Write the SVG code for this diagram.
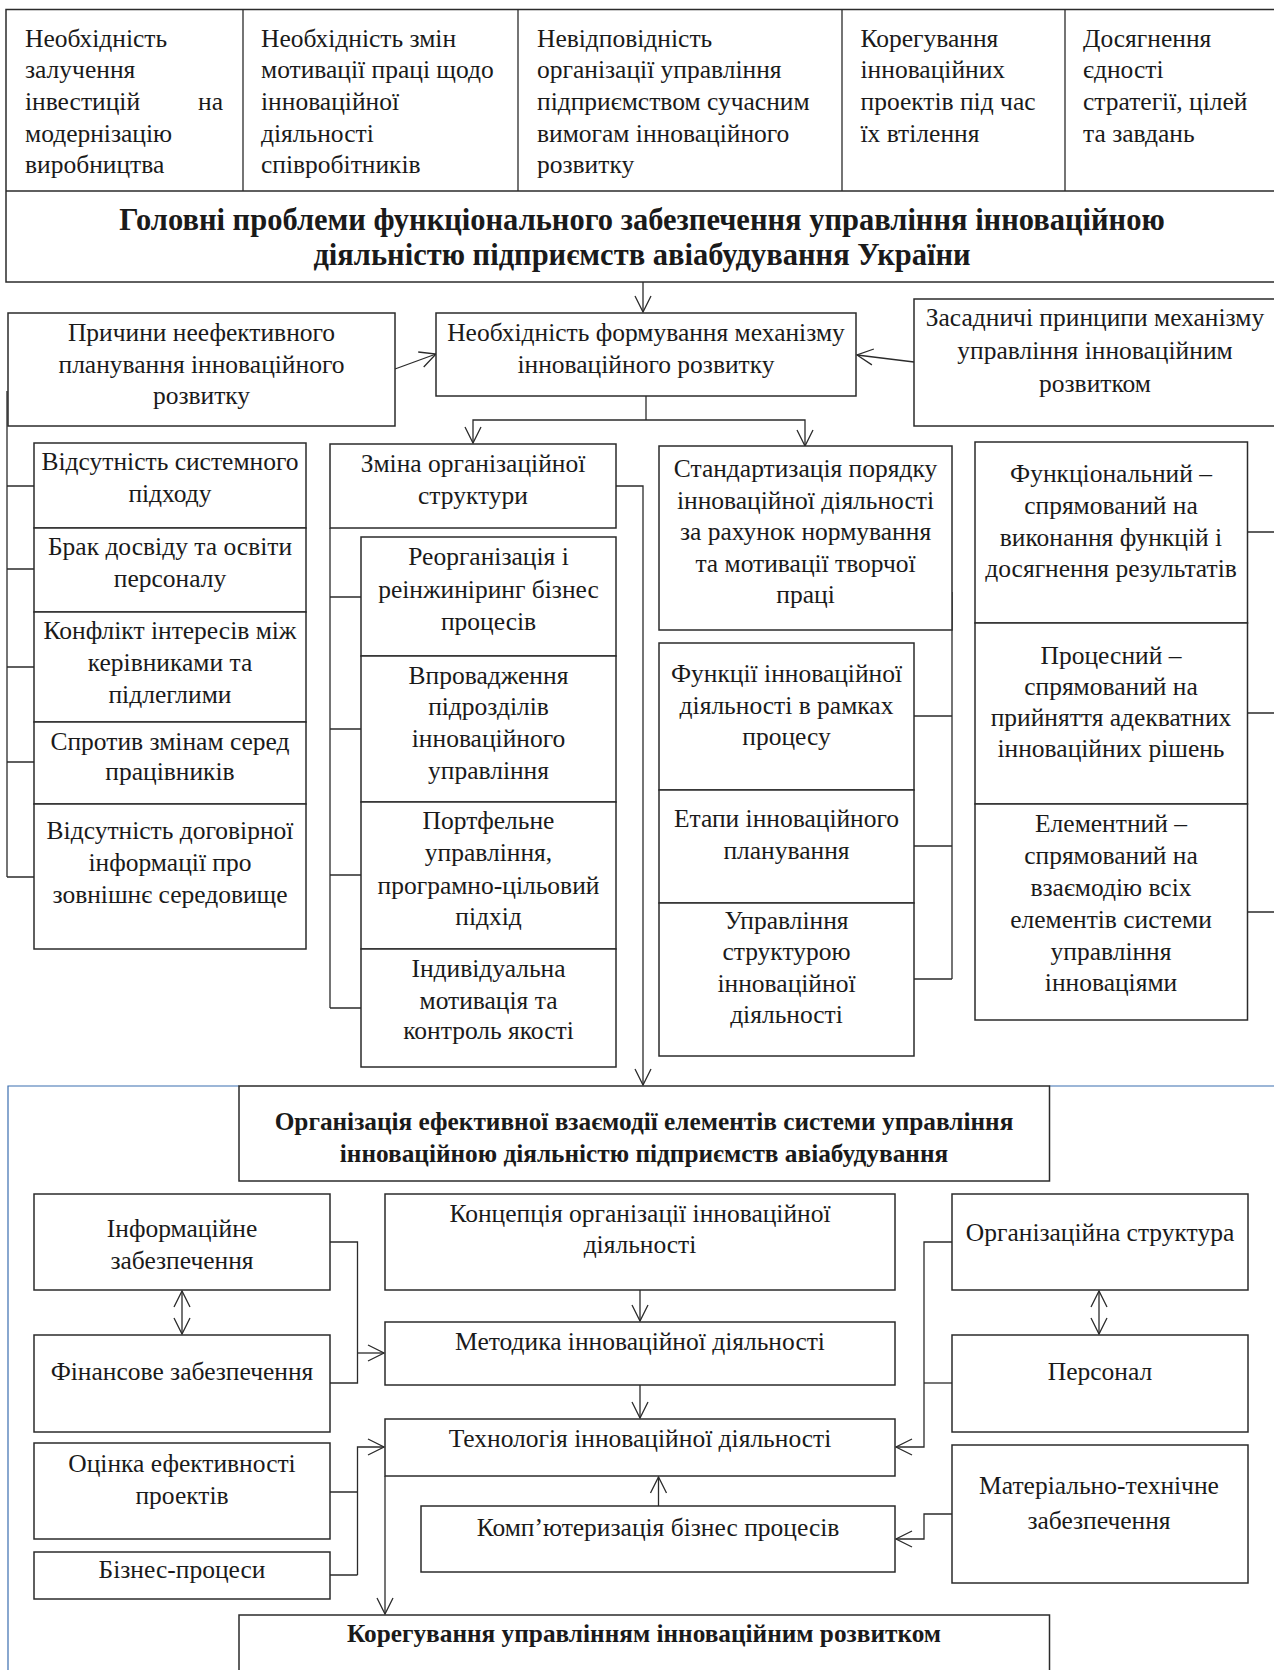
<svg xmlns="http://www.w3.org/2000/svg" width="1274" height="1670" viewBox="0 0 1274 1670">
<defs>
<style>
.b{fill:#fff;stroke:#2b2b2b;stroke-width:1.5}
.c{fill:none;stroke:#2b2b2b;stroke-width:1.3}
.ca{fill:none;stroke:#2b2b2b;stroke-width:1.3;marker-end:url(#ah)}
.cd{fill:none;stroke:#2b2b2b;stroke-width:1.3;marker-end:url(#ah);marker-start:url(#ah)}
.t{font-family:"Liberation Serif","Times New Roman",serif;font-size:25.5px;fill:#1a1a1a}
.m{text-anchor:middle}
.h{font-family:"Liberation Serif","Times New Roman",serif;font-size:30.5px;font-weight:bold;fill:#1a1a1a;text-anchor:middle}
.h2{font-family:"Liberation Serif","Times New Roman",serif;font-size:25.3px;font-weight:bold;fill:#1a1a1a;text-anchor:middle}
.blue{fill:none;stroke:#3b6eb0;stroke-width:1.2}
</style>
<marker id="ah" markerUnits="userSpaceOnUse" markerWidth="20" markerHeight="20" viewBox="-18 -10 20 20" refX="0" refY="0" orient="auto-start-reverse">
<path d="M-16,-8 L0,0 L-16,8" fill="none" stroke="#2b2b2b" stroke-width="1.3"/>
</marker>
</defs>
<rect width="1274" height="1670" fill="#fff"/>

<path class="blue" d="M239,1086 H8 V1672 M1049.5,1086 H1280"/>

<g id="top-table">
<rect class="b" x="6" y="9.5" width="1275" height="272.5"/>
<path class="c" d="M6,191 H1281 M243,9.5 V191 M518,9.5 V191 M842,9.5 V191 M1065,9.5 V191"/>
<text class="t"><tspan x="25" y="46.5">Необхідність</tspan><tspan x="25" y="78">залучення</tspan><tspan x="25" y="109.5">інвестицій</tspan><tspan x="223" y="109.5" text-anchor="end">на</tspan><tspan x="25" y="141.5">модернізацію</tspan><tspan x="25" y="173">виробництва</tspan></text>
<text class="t"><tspan x="261" y="46.5">Необхідність змін</tspan><tspan x="261" y="78">мотивації праці щодо</tspan><tspan x="261" y="109.5">інноваційної</tspan><tspan x="261" y="141.5">діяльності</tspan><tspan x="261" y="173">співробітників</tspan></text>
<text class="t"><tspan x="537" y="46.5">Невідповідність</tspan><tspan x="537" y="78">організації управління</tspan><tspan x="537" y="109.5">підприємством сучасним</tspan><tspan x="537" y="141.5">вимогам інноваційного</tspan><tspan x="537" y="173">розвитку</tspan></text>
<text class="t"><tspan x="860.5" y="46.5">Корегування</tspan><tspan x="860.5" y="78">інноваційних</tspan><tspan x="860.5" y="109.5">проектів під час</tspan><tspan x="860.5" y="141.5">їх втілення</tspan></text>
<text class="t"><tspan x="1083" y="46.5">Досягнення</tspan><tspan x="1083" y="78">єдності</tspan><tspan x="1083" y="109.5">стратегії, цілей</tspan><tspan x="1083" y="141.5">та завдань</tspan></text>
<text class="h"><tspan x="642" y="230">Головні проблеми функціонального забезпечення управління інноваційною</tspan><tspan x="642" y="265">діяльністю підприємств авіабудування України</tspan></text>
</g>

<g id="connectors">
<path class="ca" d="M643,282 V312"/>
<path class="ca" d="M395,369 L436,354"/>
<path class="ca" d="M914,362 L857,355"/>
<path class="c" d="M646,396 V420"/>
<path class="ca" d="M646,420 H473 V443"/>
<path class="ca" d="M646,420 H805 V446"/>
<path class="c" d="M7,391 V877 M7,486 H34 M7,569 H34 M7,667 H34 M7,762 H34 M7,877 H34"/>
<path class="ca" d="M616,486 H643 V1085"/>
<path class="c" d="M330,528 V1008 M330,597 H361 M330,729 H361 M330,875 H361 M330,1008 H361"/>
<path class="c" d="M952,592 V979 M914,716 H952 M914,846 H952 M914,979 H952"/>
<path class="c" d="M1247,532 H1276 M1247,713 H1276 M1247,912 H1276"/>
<path class="cd" d="M182,1291 V1334"/>
<path class="c" d="M330,1242 H357.5 V1383 H330"/>
<path class="ca" d="M357.5,1353 H384"/>
<path class="ca" d="M640,1290 V1321"/>
<path class="ca" d="M640,1385 V1418"/>
<path class="ca" d="M658.5,1506 V1477"/>
<path class="c" d="M330,1492 H357.5 M330,1575 H357.5"/>
<path class="ca" d="M357.5,1575 V1447 H384"/>
<path class="ca" d="M385,1476 V1614"/>
<path class="cd" d="M1099,1291 V1334"/>
<path class="ca" d="M952,1242 H924 V1447 H896"/>
<path class="c" d="M952,1383 H924"/>
<path class="ca" d="M952,1514 H924 V1539 H896"/>
</g>

<g id="n-prychyny">
<rect class="b" x="8" y="313" width="387" height="113"/>
<text class="t m"><tspan x="201.5" y="341">Причини неефективного</tspan><tspan x="201.5" y="373">планування інноваційного</tspan><tspan x="201.5" y="404">розвитку</tspan></text>
</g>
<g id="n-neobkhidnist">
<rect class="b" x="436" y="313" width="420" height="83"/>
<text class="t m"><tspan x="646" y="341">Необхідність формування механізму</tspan><tspan x="646" y="373">інноваційного розвитку</tspan></text>
</g>
<g id="n-zasadnychi">
<rect class="b" x="914" y="299" width="370" height="127"/>
<text class="t m"><tspan x="1095" y="325.5">Засадничі принципи механізму</tspan><tspan x="1095" y="358.5">управління інноваційним</tspan><tspan x="1095" y="391.5">розвитком</tspan></text>
</g>

<g id="n-vidsutnist-systemnoho">
<rect class="b" x="34" y="443" width="272" height="85"/>
<text class="t m"><tspan x="170" y="470">Відсутність системного</tspan><tspan x="170" y="502">підходу</tspan></text>
</g>
<g id="n-brak">
<rect class="b" x="34" y="528" width="272" height="84"/>
<text class="t m"><tspan x="170" y="555">Брак досвіду та освіти</tspan><tspan x="170" y="587">персоналу</tspan></text>
</g>
<g id="n-konflikt">
<rect class="b" x="34" y="612" width="272" height="110"/>
<text class="t m"><tspan x="170" y="639">Конфлікт інтересів між</tspan><tspan x="170" y="671">керівниками та</tspan><tspan x="170" y="702.5">підлеглими</tspan></text>
</g>
<g id="n-sprotyv">
<rect class="b" x="34" y="722" width="272" height="82"/>
<text class="t m"><tspan x="170" y="750">Спротив змінам серед</tspan><tspan x="170" y="780">працівників</tspan></text>
</g>
<g id="n-vidsutnist-dohovirnoi">
<rect class="b" x="34" y="804" width="272" height="145"/>
<text class="t m"><tspan x="170" y="839">Відсутність договірної</tspan><tspan x="170" y="871">інформації про</tspan><tspan x="170" y="903">зовнішнє середовище</tspan></text>
</g>

<g id="n-zmina">
<rect class="b" x="330" y="444" width="286" height="84"/>
<text class="t m"><tspan x="473" y="472">Зміна організаційної</tspan><tspan x="473" y="503.5">структури</tspan></text>
</g>
<g id="n-reorhanizatsiia">
<rect class="b" x="361" y="537" width="255" height="119"/>
<text class="t m"><tspan x="488.5" y="565">Реорганізація і</tspan><tspan x="488.5" y="598">реінжиніринг бізнес</tspan><tspan x="488.5" y="630">процесів</tspan></text>
</g>
<g id="n-vprovadzhennia">
<rect class="b" x="361" y="656" width="255" height="146"/>
<text class="t m"><tspan x="488.5" y="683.5">Впровадження</tspan><tspan x="488.5" y="715">підрозділів</tspan><tspan x="488.5" y="747">інноваційного</tspan><tspan x="488.5" y="778.5">управління</tspan></text>
</g>
<g id="n-portfelne">
<rect class="b" x="361" y="802" width="255" height="147"/>
<text class="t m"><tspan x="488.5" y="828.5">Портфельне</tspan><tspan x="488.5" y="861">управління,</tspan><tspan x="488.5" y="893.5">програмно-цільовий</tspan><tspan x="488.5" y="925">підхід</tspan></text>
</g>
<g id="n-indyvidualna">
<rect class="b" x="361" y="949" width="255" height="118"/>
<text class="t m"><tspan x="488.5" y="977">Індивідуальна</tspan><tspan x="488.5" y="1008.5">мотивація та</tspan><tspan x="488.5" y="1039">контроль якості</tspan></text>
</g>

<g id="n-standartyzatsiia">
<rect class="b" x="659" y="446" width="293" height="184"/>
<text class="t m"><tspan x="805.5" y="477">Стандартизація порядку</tspan><tspan x="805.5" y="508.5">інноваційної діяльності</tspan><tspan x="805.5" y="540">за рахунок нормування</tspan><tspan x="805.5" y="571.5">та мотивації творчої</tspan><tspan x="805.5" y="603">праці</tspan></text>
</g>
<g id="n-funktsii">
<rect class="b" x="659" y="643" width="255" height="147"/>
<text class="t m"><tspan x="786.5" y="682">Функції інноваційної</tspan><tspan x="786.5" y="713.5">діяльності в рамках</tspan><tspan x="786.5" y="745">процесу</tspan></text>
</g>
<g id="n-etapy">
<rect class="b" x="659" y="790" width="255" height="113"/>
<text class="t m"><tspan x="786.5" y="827">Етапи інноваційного</tspan><tspan x="786.5" y="858.5">планування</tspan></text>
</g>
<g id="n-upravlinnia-strukturoiu">
<rect class="b" x="659" y="903" width="255" height="153"/>
<text class="t m"><tspan x="786.5" y="928.5">Управління</tspan><tspan x="786.5" y="960">структурою</tspan><tspan x="786.5" y="991.5">інноваційної</tspan><tspan x="786.5" y="1023">діяльності</tspan></text>
</g>

<g id="n-funktsionalnyi">
<rect class="b" x="975" y="442" width="272.5" height="181"/>
<text class="t m"><tspan x="1111" y="482">Функціональний –</tspan><tspan x="1111" y="513.5">спрямований на</tspan><tspan x="1111" y="546">виконання функцій і</tspan><tspan x="1111" y="577">досягнення результатів</tspan></text>
</g>
<g id="n-protsesnyi">
<rect class="b" x="975" y="623" width="272.5" height="181"/>
<text class="t m"><tspan x="1111" y="663.5">Процесний –</tspan><tspan x="1111" y="694.5">спрямований на</tspan><tspan x="1111" y="726">прийняття адекватних</tspan><tspan x="1111" y="757">інноваційних рішень</tspan></text>
</g>
<g id="n-elementnyi">
<rect class="b" x="975" y="804" width="272.5" height="216"/>
<text class="t m"><tspan x="1111" y="832">Елементний –</tspan><tspan x="1111" y="864">спрямований на</tspan><tspan x="1111" y="896">взаємодію всіх</tspan><tspan x="1111" y="928">елементів системи</tspan><tspan x="1111" y="960">управління</tspan><tspan x="1111" y="991">інноваціями</tspan></text>
</g>

<g id="n-orhanizatsiia">
<rect class="b" x="239" y="1086" width="810.5" height="95"/>
<text class="h2"><tspan x="644" y="1130">Організація ефективної взаємодії елементів системи управління</tspan><tspan x="644" y="1162">інноваційною діяльністю підприємств авіабудування</tspan></text>
</g>
<g id="n-informatsiine">
<rect class="b" x="34" y="1194" width="296" height="96"/>
<text class="t m"><tspan x="182" y="1237">Інформаційне</tspan><tspan x="182" y="1268.5">забезпечення</tspan></text>
</g>
<g id="n-finansove">
<rect class="b" x="34" y="1335" width="296" height="97"/>
<text class="t m"><tspan x="182" y="1380">Фінансове забезпечення</tspan></text>
</g>
<g id="n-otsinka">
<rect class="b" x="34" y="1443" width="296" height="96"/>
<text class="t m"><tspan x="182" y="1472">Оцінка ефективності</tspan><tspan x="182" y="1503.5">проектів</tspan></text>
</g>
<g id="n-biznes">
<rect class="b" x="34" y="1552" width="296" height="47"/>
<text class="t m"><tspan x="182" y="1578">Бізнес-процеси</tspan></text>
</g>
<g id="n-kontseptsiia">
<rect class="b" x="385" y="1194" width="510" height="96"/>
<text class="t m"><tspan x="640" y="1222">Концепція організації інноваційної</tspan><tspan x="640" y="1253">діяльності</tspan></text>
</g>
<g id="n-metodyka">
<rect class="b" x="385" y="1322" width="510" height="63"/>
<text class="t m"><tspan x="640" y="1350">Методика інноваційної діяльності</tspan></text>
</g>
<g id="n-tekhnolohiia">
<rect class="b" x="385" y="1419" width="510" height="57"/>
<text class="t m"><tspan x="640" y="1447">Технологія інноваційної діяльності</tspan></text>
</g>
<g id="n-kompiuteryzatsiia">
<rect class="b" x="421" y="1506" width="474" height="66"/>
<text class="t m"><tspan x="658" y="1536">Комп’ютеризація бізнес процесів</tspan></text>
</g>
<g id="n-orh-struktura">
<rect class="b" x="952" y="1194" width="296" height="96"/>
<text class="t m"><tspan x="1100" y="1240.5">Організаційна структура</tspan></text>
</g>
<g id="n-personal">
<rect class="b" x="952" y="1335" width="296" height="97"/>
<text class="t m"><tspan x="1100" y="1380">Персонал</tspan></text>
</g>
<g id="n-materialno">
<rect class="b" x="952" y="1445" width="296" height="138"/>
<text class="t m"><tspan x="1099" y="1493.5">Матеріально-технічне</tspan><tspan x="1099" y="1528.5">забезпечення</tspan></text>
</g>
<g id="n-koryhuvannia">
<rect class="b" x="239" y="1615" width="810.5" height="70"/>
<text class="h2"><tspan x="644" y="1642">Корегування управлінням інноваційним розвитком</tspan></text>
</g>
</svg>
